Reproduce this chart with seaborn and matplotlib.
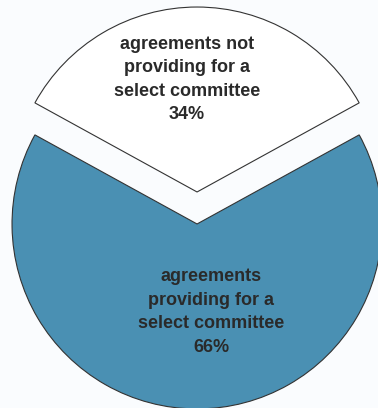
import matplotlib
matplotlib.use("Agg")
import matplotlib.pyplot as plt
import seaborn as sns

categories = ["agreements not\nproviding for a\nselect committee",
              "agreements\nproviding for a\nselect committee"]
shares = [34, 66]
colors = ["#ffffff", "#4a90b3"]

sns.set_theme(style="white")
plt.rcParams['font.family'] = ['Liberation Sans', 'DejaVu Sans']

fig = plt.figure(figsize=(3.78, 4.08), dpi=100, facecolor="#fafcfe")
ax = fig.add_axes([0, 0, 1, 1])
ax.set_facecolor("#fafcfe")

start = 90 - shares[0] / 100 * 360 / 2
wedges, _ = ax.pie(shares, colors=colors, startangle=start, counterclock=True,
                   explode=[0.173, 0], radius=1.0,
                   wedgeprops=dict(edgecolor="#333333", linewidth=0.8))
ax.set_aspect("auto")
ax.set_xlim(-1.065, 0.978)
ax.set_ylim(-0.995, 1.211)
ax.axis("off")

label_pos = [(-0.054, 0.78), (0.076, -0.476)]
for (x, y), cat, s in zip(label_pos, categories, shares):
    ax.text(x, y, f"{cat}\n{s}%", ha="center", va="center", fontsize=13,
            fontweight="bold", color="#2a2a2a", linespacing=1.5)

fig.savefig("out.png", dpi=100, facecolor=fig.get_facecolor())
